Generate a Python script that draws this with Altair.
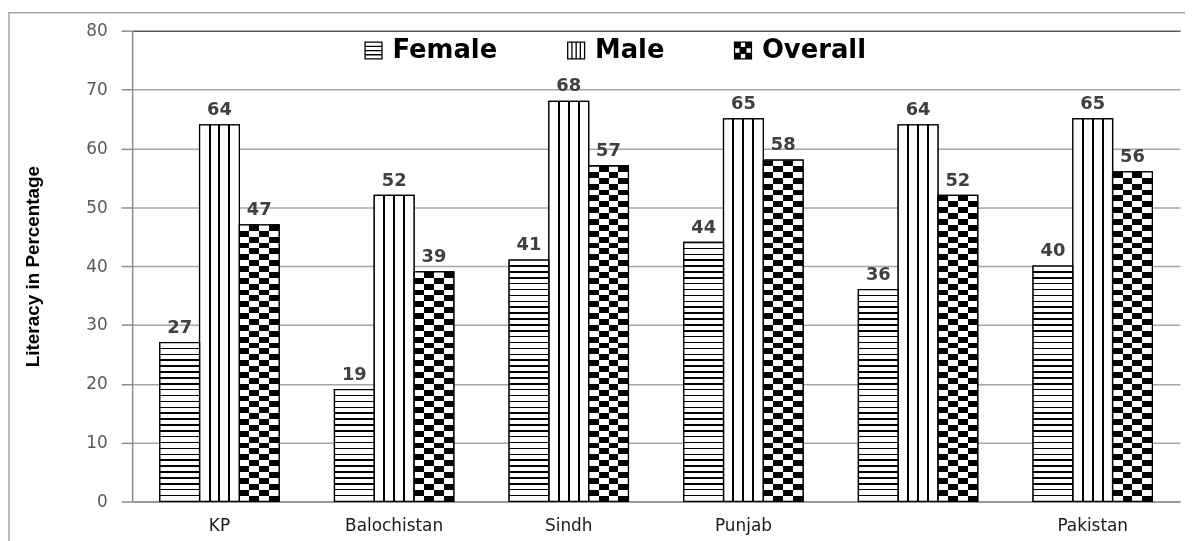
import altair as alt
import pandas as pd

categories = ["KP", "Balochistan", "Sindh", "Punjab", " ", "Pakistan"]
series = ["Female", "Male", "Overall"]
female = [27, 19, 41, 44, 36, 40]
male = [64, 52, 68, 65, 64, 65]
overall = [47, 39, 57, 58, 52, 56]
y_ticks = [0, 10, 20, 30, 40, 50, 60, 70, 80]

rows = []
for i, c in enumerate(categories):
    rows.append({"region": c, "series": "Female", "value": female[i]})
    rows.append({"region": c, "series": "Male", "value": male[i]})
    rows.append({"region": c, "series": "Overall", "value": overall[i]})
df = pd.DataFrame(rows)

W, H = 1055, 474
YMAX = 80
FONT = "DejaVu Sans"


def stop(o, c):
    return {"offset": round(min(max(o, 0.0), 1.0), 5), "color": c}


def female_grad(v):
    # thin horizontal lines, one per value unit, measured from the bar bottom
    h = 0.13 / v
    stops = [stop(0, "white")]
    k = 1
    while k / v < 0.985:
        o = k / v
        stops += [stop(o - h, "white"), stop(o - h, "black"),
                  stop(o + h, "black"), stop(o + h, "white")]
        k += 1
    stops.append(stop(1, "white"))
    return {"gradient": "linear", "x1": 0, "y1": 1, "x2": 0, "y2": 0, "stops": stops}


def rows_grad(v):
    stops = []
    j = 0
    while j / v < 1:
        c = "black" if j % 2 == 0 else "white"
        stops += [stop(j / v, c), stop((j + 1) / v, c)]
        j += 1
    return {"gradient": "linear", "x1": 0, "y1": 1, "x2": 0, "y2": 0, "stops": stops}


male_grad = {"gradient": "linear", "x1": 0, "y1": 0, "x2": 1, "y2": 0, "stops": [
    stop(0, "white"),
    stop(0.225, "white"), stop(0.225, "black"), stop(0.275, "black"), stop(0.275, "white"),
    stop(0.475, "white"), stop(0.475, "black"), stop(0.525, "black"), stop(0.525, "white"),
    stop(0.725, "white"), stop(0.725, "black"), stop(0.775, "black"), stop(0.775, "white"),
    stop(1, "white")]}

cols_grad = {"gradient": "linear", "x1": 0, "y1": 0, "x2": 1, "y2": 0, "stops": [
    stop(0, "white"), stop(0.25, "white"), stop(0.25, "black"), stop(0.5, "black"),
    stop(0.5, "white"), stop(0.75, "white"), stop(0.75, "black"), stop(1, "black")]}

# legend symbol paths (unit square -1..1)
path_female = "M-1,-1H1V1H-1Z M-1,-0.5H1 M-1,0H1 M-1,0.5H1"
path_male = "M-1,-1H1V1H-1Z M-0.5,-1V1 M0,-1V1 M0.5,-1V1"
holes = ""
s = 2.0 / 3.0
for (cc, rr) in [(1, 0), (0, 1), (2, 1), (1, 2)]:
    x0 = -1 + cc * s
    y0 = -1 + rr * s
    holes += " M{:.3f},{:.3f}V{:.3f}H{:.3f}V{:.3f}Z".format(x0, y0, y0 + s, x0 + s, y0)
path_overall = "M-1,-1H1V1H-1Z" + holes

x_axis = alt.Axis(title=None, labelFont=FONT, labelFontSize=17, labelColor="#1a1a1a",
                  labelPadding=16, ticks=False, domainColor="#8c8c8c", domainWidth=1.5,
                  labelAngle=0, grid=False)
y_axis = alt.Axis(values=y_ticks, title="Literacy in Percentage",
                  titleFont="Liberation Sans, Arial, sans-serif",
                  titleFontSize=19, titleFontWeight="bold", titleColor="black",
                  titleAngle=270, titleX=-100, titleY=H / 2, titleAlign="center",
                  titleBaseline="middle",
                  labelFont=FONT, labelFontSize=17, labelColor="#595959", labelPadding=14,
                  tickSize=11, tickColor="#8c8c8c", tickWidth=1.5,
                  domainColor="#8c8c8c", domainWidth=1.5,
                  grid=True, gridWidth=1.5,
                  gridColor={"condition": {"test": "datum.value === 80", "value": "#5a5a5a"},
                             "value": "#a6a6a6"})


def enc(ch, yfield="value:Q"):
    return ch.encode(
        x=alt.X("region:N", sort=categories,
                scale=alt.Scale(domain=categories, paddingInner=0.317, paddingOuter=0.1585),
                axis=x_axis),
        xOffset=alt.XOffset("series:N", sort=series,
                            scale=alt.Scale(domain=series, paddingInner=0, paddingOuter=0)),
        y=alt.Y(yfield, scale=alt.Scale(domain=[0, YMAX]), axis=y_axis),
    )


frame = alt.Chart(pd.DataFrame({"k": [0]})).mark_rect(
    fill="white", fillOpacity=0, stroke="#a6a6a6", strokeWidth=1.5
).encode(x=alt.value(-124), x2=alt.value(W + 60), y=alt.value(-18), y2=alt.value(H + 90))

legend = alt.Legend(
    title=None, orient="none", direction="horizontal", legendX=230, legendY=7,
    labelFont=FONT, labelFontSize=26, labelFontWeight="bold", labelColor="black",
    labelOffset=6, columnPadding=66, symbolSize=289, symbolStrokeColor="black",
    symbolStrokeWidth=1.3,
)

# hidden point layer (drawn beneath the bars) that carries the patterned legend
legend_pts = enc(
    alt.Chart(df).transform_calculate(mid="datum.value / 2").mark_point(
        filled=True, stroke="black", strokeWidth=1.3, size=289, opacity=1),
    yfield="mid:Q",
).encode(
    color=alt.Color("series:N", sort=series,
                    scale=alt.Scale(domain=series, range=["white", "white", "black"]),
                    legend=legend),
    shape=alt.Shape("series:N", sort=series,
                    scale=alt.Scale(domain=series,
                                    range=[path_female, path_male, path_overall]),
                    legend=legend),
)

base = enc(alt.Chart(df).mark_bar(fill="white", stroke="black", strokeWidth=1.3))

layers = [frame, legend_pts, base]

for i, c in enumerate(categories):
    layers.append(enc(alt.Chart(df).transform_filter(
        (alt.datum.region == c) & (alt.datum.series == "Female")
    ).mark_bar(fill=female_grad(female[i]))))

layers.append(enc(alt.Chart(df).transform_filter(alt.datum.series == "Male")
                  .mark_bar(fill=male_grad)))
layers.append(enc(alt.Chart(df).transform_filter(alt.datum.series == "Overall")
                  .mark_bar(fill=cols_grad)))

for i, c in enumerate(categories):
    layers.append(enc(alt.Chart(df).transform_filter(
        (alt.datum.region == c) & (alt.datum.series == "Overall")
    ).mark_bar(fill=rows_grad(overall[i]), blend="difference")))

outline = enc(alt.Chart(df).mark_bar(fill="white", fillOpacity=0, stroke="black",
                                     strokeWidth=1.3))
layers.append(outline)

labels = enc(alt.Chart(df).mark_text(
    dy=-10, baseline="alphabetic", align="center", font=FONT, fontSize=18,
    fontWeight="bold", color="#404040"
)).encode(text="value:Q")
layers.append(labels)

chart = alt.layer(*layers).properties(
    width=W, height=H,
    autosize=alt.AutoSizeParams(type="none"),
    padding={"left": 125, "top": 21, "right": 5, "bottom": 38},
).configure_view(strokeWidth=0)

chart.save("out.html", embed_options={"renderer": "svg", "actions": False})
